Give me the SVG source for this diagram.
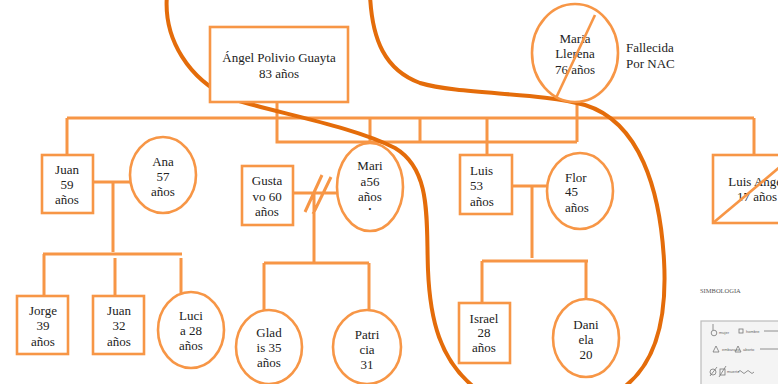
<svg xmlns="http://www.w3.org/2000/svg" width="778" height="384" viewBox="0 0 778 384">
<style>
.ln{stroke:#F79646;stroke-width:3;fill:none}
.nd{stroke:#F79646;stroke-width:2.6;fill:#fff}
.t{font-family:"Liberation Serif",serif;font-size:13px;fill:#222;text-anchor:middle}
.tl{font-family:"Liberation Serif",serif;font-size:13px;fill:#222}
.lg{font-family:"Liberation Sans",sans-serif;font-size:4px;fill:#666}
</style>
<rect width="778" height="384" fill="#fff"/>
<g id="connectors">
<path class="ln" d="M67,118 H754 M277,102 V142 H577 M370,118 V142 M420,118 V142 M487,118 V155 M577,102 V142 M754,118 V155 M67,118 V155"/>
<path class="ln" d="M93,182 H130 M113,182 V252 M43,254 H182 M44,254 V296 M115,258 V296 M181,258 V293"/>
<path class="ln" d="M293,193 H339 M322,175 L305,212 M331,177 L313,214 M314,193 V263 M264,263 H369 M264,263 V311 M369,263 V311"/>
<path class="ln" d="M512,186 H548 M532,186 V258 M482,261 H588 M482,261 V303 M586,261 V300"/>
</g>
<path id="circle-line" d="M370,-5 C372,40 385,70 420,83 C460,95 540,92 585,105 C640,122 660,190 664,260 C668,330 650,370 620,390 C580,410 500,410 475,388 C440,360 430,320 428,270 C426,220 432,170 395,148 C350,125 270,112 230,98 C190,80 163,40 167,-5 C170,-60 360,-60 370,-5 Z" fill="none" stroke="#E46C0A" stroke-width="4"/>
<g id="angel"><rect class="nd" x="210" y="27" width="138" height="75"/><text class="t" x="279" y="62">Ángel Polivio Guayta</text><text class="t" x="279" y="78">83 años</text></g>
<g id="maria-llerena"><ellipse class="nd" cx="575" cy="53" rx="43" ry="49"/><text class="t" x="575" y="43">Maria</text><text class="t" x="575" y="58">Llerena</text><text class="t" x="575" y="74">76 años</text><line x1="595" y1="15" x2="556" y2="98" stroke="#F79646" stroke-width="2.6"/></g>
<g id="fallecida"><text class="tl" x="626" y="52">Fallecida</text><text class="tl" x="626" y="68">Por NAC</text></g>
<g id="juan59"><rect class="nd" x="42" y="155" width="51" height="58"/><text class="t" x="67" y="174">Juan</text><text class="t" x="67" y="189">59</text><text class="t" x="67" y="204">años</text></g>
<g id="ana"><ellipse class="nd" cx="163" cy="175" rx="33" ry="38"/><text class="t" x="163" y="166">Ana</text><text class="t" x="163" y="181">57</text><text class="t" x="163" y="196">años</text></g>
<g id="jorge"><rect class="nd" x="17" y="296" width="51" height="58"/><text class="t" x="43" y="315">Jorge</text><text class="t" x="43" y="330">39</text><text class="t" x="43" y="346">años</text></g>
<g id="juan32"><rect class="nd" x="93" y="296" width="51" height="58"/><text class="t" x="119" y="315">Juan</text><text class="t" x="119" y="330">32</text><text class="t" x="119" y="346">años</text></g>
<g id="lucia"><ellipse class="nd" cx="191" cy="330" rx="33" ry="38"/><text class="t" x="191" y="320">Luci</text><text class="t" x="191" y="335">a 28</text><text class="t" x="191" y="350">años</text></g>
<g id="gustavo"><rect class="nd" x="242" y="166" width="51" height="59"/><text class="t" x="267" y="185">Gusta</text><text class="t" x="267" y="201">vo 60</text><text class="t" x="267" y="216">años</text></g>
<g id="maria56"><ellipse class="nd" cx="370" cy="187" rx="33" ry="44"/><text class="t" x="370" y="170">Mari</text><text class="t" x="370" y="186">a56</text><text class="t" x="370" y="201">años</text><text class="t" x="370" y="212" style="font-size:8px">•</text></g>
<g id="gladis"><ellipse class="nd" cx="269" cy="347" rx="33" ry="37"/><text class="t" x="269" y="337">Glad</text><text class="t" x="269" y="352">is 35</text><text class="t" x="269" y="367">años</text></g>
<g id="patricia"><ellipse class="nd" cx="367" cy="347" rx="34" ry="37"/><text class="t" x="367" y="339">Patri</text><text class="t" x="367" y="354">cia</text><text class="t" x="367" y="369">31</text></g>
<g id="luis53"><rect class="nd" x="460" y="155" width="52" height="59"/><text class="tl" x="470" y="175">Luis</text><text class="tl" x="470" y="190">53</text><text class="tl" x="470" y="206">años</text></g>
<g id="flor"><ellipse class="nd" cx="580" cy="191" rx="33" ry="38"/><text class="tl" x="565" y="182">Flor</text><text class="tl" x="565" y="196">45</text><text class="tl" x="565" y="212">años</text></g>
<g id="israel"><rect class="nd" x="459" y="303" width="51" height="60"/><text class="t" x="484" y="323">Israel</text><text class="t" x="484" y="337">28</text><text class="t" x="484" y="352">años</text></g>
<g id="daniela"><ellipse class="nd" cx="586" cy="338" rx="33" ry="39"/><text class="t" x="586" y="329">Dani</text><text class="t" x="586" y="344">ela</text><text class="t" x="586" y="359">20</text></g>
<g id="luis-angel"><rect class="nd" x="713" y="155" width="82" height="68"/><text class="t" x="757" y="186">Luis Angel</text><text class="t" x="757" y="201">17 años</text><line x1="713" y1="223" x2="793" y2="156" stroke="#F79646" stroke-width="2.6"/></g>
<g id="simbologia">
<text x="700" y="293" style="font-family:'Liberation Serif',serif;font-size:6.5px;fill:#555">SIMBOLOGIA</text>
<rect x="701" y="321" width="90" height="70" fill="#f4f4f4" stroke="#bbb" stroke-width="1.2"/>
<g fill="none" stroke="#777" stroke-width="0.8">
<circle cx="714" cy="333" r="2.8"/><line x1="713" y1="330" x2="713" y2="324"/>
<rect x="739" y="329" width="4" height="4"/><line x1="764" y1="331" x2="778" y2="331"/>
<path d="M713,352 L716,346 L719,352 Z M735,352 L738,346 L741,352 Z"/><line x1="760" y1="349" x2="778" y2="349"/>
<circle cx="713" cy="372" r="3"/><line x1="710" y1="376" x2="717" y2="367"/>
<rect x="720" y="369" width="5" height="6"/><line x1="719" y1="377" x2="726" y2="366"/>
<path d="M738,372 q2,-3 4,0 t4,0 t4,0 t4,0"/>
</g>
<text class="lg" x="719" y="334">mujer</text><text class="lg" x="746" y="333">hombre</text>
<text class="lg" x="722" y="351">embarazo</text><text class="lg" x="743" y="351">aborto</text>
<text class="lg" x="727" y="373">muerte</text>
</g>
</svg>
